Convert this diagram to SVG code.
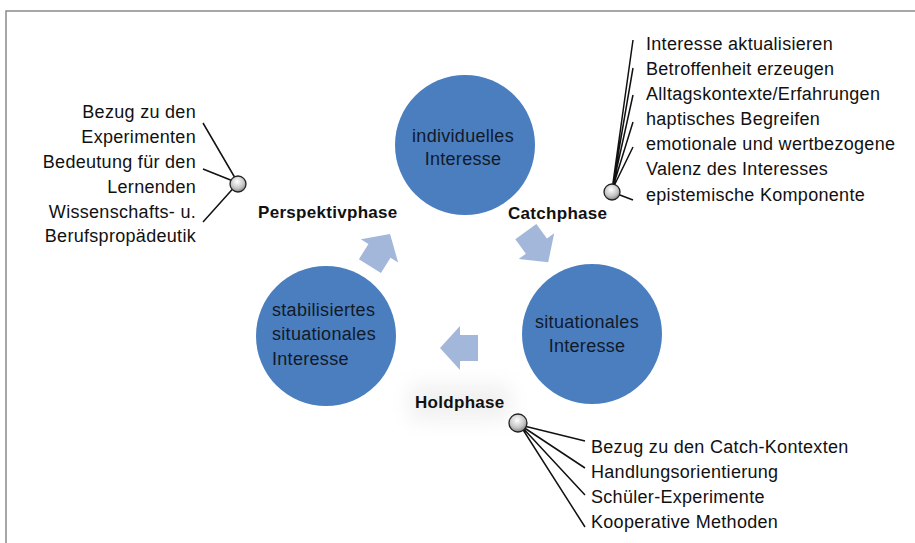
<svg xmlns="http://www.w3.org/2000/svg" width="915" height="543" viewBox="0 0 915 543">
<style>
.frame{stroke:#8a8a8a;stroke-width:1.5;fill:none}
.circ{fill:#4a7ebf}
.ct{font-family:"Liberation Sans",Arial,sans-serif;font-size:18px;letter-spacing:0.3px;fill:#111a2a}
.lbl{font-family:"Liberation Sans",Arial,sans-serif;font-size:17px;letter-spacing:0.3px;font-weight:bold;fill:#111}
.it{font-family:"Liberation Sans",Arial,sans-serif;font-size:18px;letter-spacing:0.3px;fill:#111}
.arr{fill:#a3b7da}
.ln{stroke:#111;stroke-width:1.5;fill:none}
.ball{fill:url(#bg);stroke:#222;stroke-width:1.3}
</style>
<defs>
<radialGradient id="bg" cx="0.45" cy="0.35" r="0.7">
<stop offset="0" stop-color="#ffffff"/>
<stop offset="0.6" stop-color="#c4c4c4"/>
<stop offset="1" stop-color="#777"/>
</radialGradient>
<path id="arrow" d="M-19,0 L1,-22 L1,-13 L19,-13 L19,13 L1,13 L1,22 Z"/>
<filter id="blur" x="-50%" y="-50%" width="200%" height="200%"><feGaussianBlur stdDeviation="10"/></filter>
</defs>
<path class="frame" d="M6,543 V11 H915"/>
<g id="connectors">
<use href="#arrow" class="arr" transform="translate(380,250) rotate(122)"/>
<use href="#arrow" class="arr" transform="translate(537,247) rotate(-126)"/>
<use href="#arrow" class="arr" transform="translate(459,348)"/>
<path class="ln" d="M238,183 L203,123 M238,183 L203,169 M238,183 L203,222"/>
<path class="ln" d="M612,190 L633,40 M612,190 L633,68 M612,190 L633,95 M612,190 L633,122 M612,190 L633,147 M612,192 L633,200"/>
<path class="ln" d="M520,425 L585,441 M520,425 L585,468 M520,425 L585,495 M520,425 L585,527"/>
</g>
<g id="node-individuell">
<circle class="circ" cx="465" cy="145" r="70"/>
<text class="ct" x="463" y="142" text-anchor="middle">individuelles</text>
<text class="ct" x="463" y="165" text-anchor="middle">Interesse</text>
</g>
<g id="node-situational">
<circle class="circ" cx="592" cy="334" r="70"/>
<text class="ct" x="587" y="328" text-anchor="middle">situationales</text>
<text class="ct" x="587" y="352" text-anchor="middle">Interesse</text>
</g>
<g id="node-stabilisiert">
<circle class="circ" cx="326" cy="336" r="70"/>
<text class="ct" x="272" y="316">stabilisiertes</text>
<text class="ct" x="272" y="340">situationales</text>
<text class="ct" x="272" y="365">Interesse</text>
</g>
<g id="node-perspektiv">
<circle class="ball" cx="238" cy="184" r="8"/>
<text class="lbl" x="258" y="218">Perspektivphase</text>
<g class="it" text-anchor="end">
<text x="196" y="118">Bezug zu den</text>
<text x="196" y="143">Experimenten</text>
<text x="196" y="168">Bedeutung für den</text>
<text x="196" y="193">Lernenden</text>
<text x="196" y="218">Wissenschafts- u.</text>
<text x="196" y="242">Berufspropädeutik</text>
</g>
</g>
<g id="node-catch">
<circle class="ball" cx="612" cy="192" r="8"/>
<text class="lbl" x="508" y="219">Catchphase</text>
<g class="it">
<text x="646" y="50">Interesse aktualisieren</text>
<text x="646" y="75">Betroffenheit erzeugen</text>
<text x="646" y="100">Alltagskontexte/Erfahrungen</text>
<text x="646" y="125">haptisches Begreifen</text>
<text x="646" y="150">emotionale und wertbezogene</text>
<text x="646" y="175">Valenz des Interesses</text>
<text x="646" y="201">epistemische Komponente</text>
</g>
</g>
<g id="node-hold">
<rect x="410" y="385" width="100" height="35" fill="#e6e6e6" opacity="0.6" filter="url(#blur)"/>
<circle class="ball" cx="518" cy="423" r="9"/>
<text class="lbl" x="415" y="408">Holdphase</text>
<g class="it">
<text x="591" y="453">Bezug zu den Catch-Kontexten</text>
<text x="591" y="478">Handlungsorientierung</text>
<text x="591" y="503">Schüler-Experimente</text>
<text x="591" y="528">Kooperative Methoden</text>
</g>
</g>
</svg>
